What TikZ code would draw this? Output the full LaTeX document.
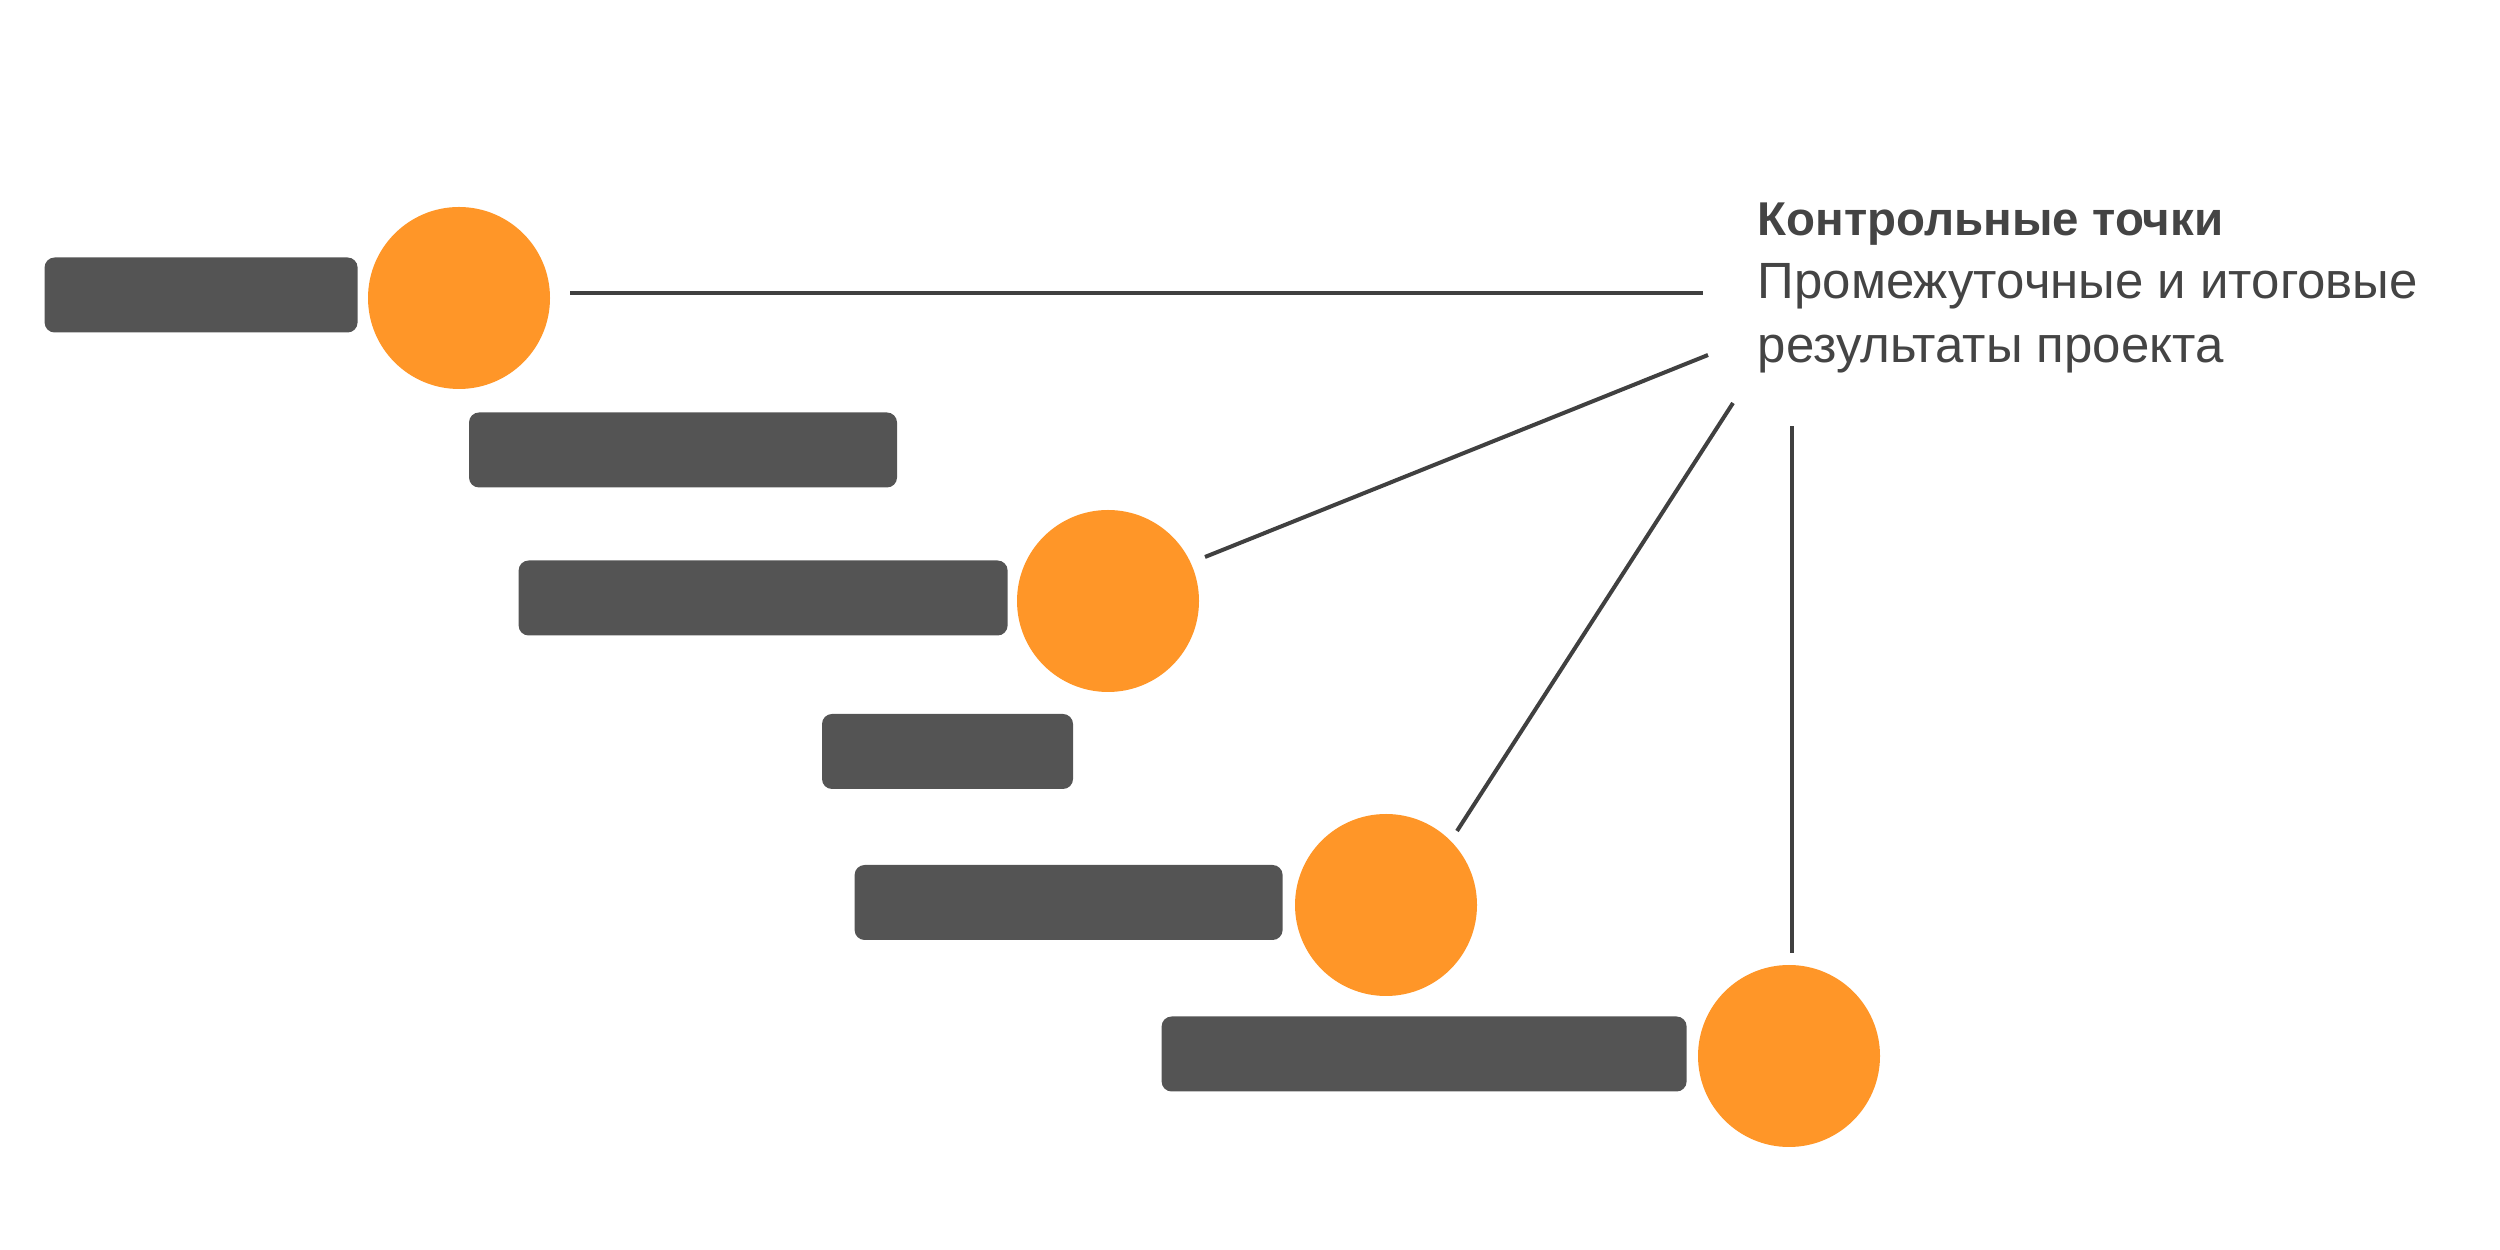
\documentclass[tikz,border=0pt]{standalone}
\usepackage{fontspec}
\setmainfont{Liberation Sans}
\usepackage{tikz}
\usetikzlibrary{positioning}

\definecolor{barcol}{HTML}{545454}
\definecolor{dotcol}{HTML}{FF9628}
\definecolor{linecol}{HTML}{404040}
\definecolor{textcol}{HTML}{444444}

\tikzset{
  task/.style={fill=barcol, rounded corners=0.1cm, minimum height=0.75cm, inner sep=0pt},
  milestone/.style={circle, fill=dotcol, minimum size=1.82cm, inner sep=0pt},
  link/.style={draw=linecol, line width=0.04cm}
}

\begin{document}
\begin{tikzpicture}
  \useasboundingbox (0,0) rectangle (25,12.5);

  %Define nodes
  \node[milestone] (c1) at (4.59,9.52) {};
  \node[milestone] (c2) at (11.08,6.49) {};
  \node[milestone] (c3) at (13.86,3.45) {};
  \node[milestone] (c4) at (17.89,1.94) {};

  \node[task, minimum width=3.13cm, left=0.09cm of c1, yshift=0.03cm] (b1) {};
  \node[task, minimum width=4.28cm] (b2) at (6.83,8.00) {};
  \node[task, minimum width=4.89cm, left=0.08cm of c2, yshift=0.03cm] (b3) {};
  \node[task, minimum width=2.51cm] (b4) at (9.475,4.985) {};
  \node[task, minimum width=4.28cm, left=0.11cm of c3, yshift=0.025cm] (b5) {};
  \node[task, minimum width=5.25cm, left=0.10cm of c4, yshift=0.02cm] (b6) {};

  \node[anchor=north west, align=left, inner sep=0pt, text=textcol,
        font=\fontsize{14.5}{18.1}\selectfont] (note) at (17.57,10.48)
    {{\fontsize{13.5}{18.1}\selectfont\bfseries Контрольные точки}\\Промежуточные и итоговые\\результаты проекта};

  \coordinate (e1) at (17.03,9.57);
  \coordinate (e2) at (17.08,8.95);
  \coordinate (e3) at (17.33,8.47);
  \coordinate (e4) at (17.92,8.24);

  % Connect the nodes
  \draw[link] ([shift={(1.11,0.05)}]c1.center) -- (e1);
  \draw[link] ([shift={(0.97,0.44)}]c2.center) -- (e2);
  \draw[link] ([shift={(0.71,0.74)}]c3.center) -- (e3);
  \draw[link] ([shift={(0.03,1.03)}]c4.center) -- (e4);

\end{tikzpicture}
\end{document}
